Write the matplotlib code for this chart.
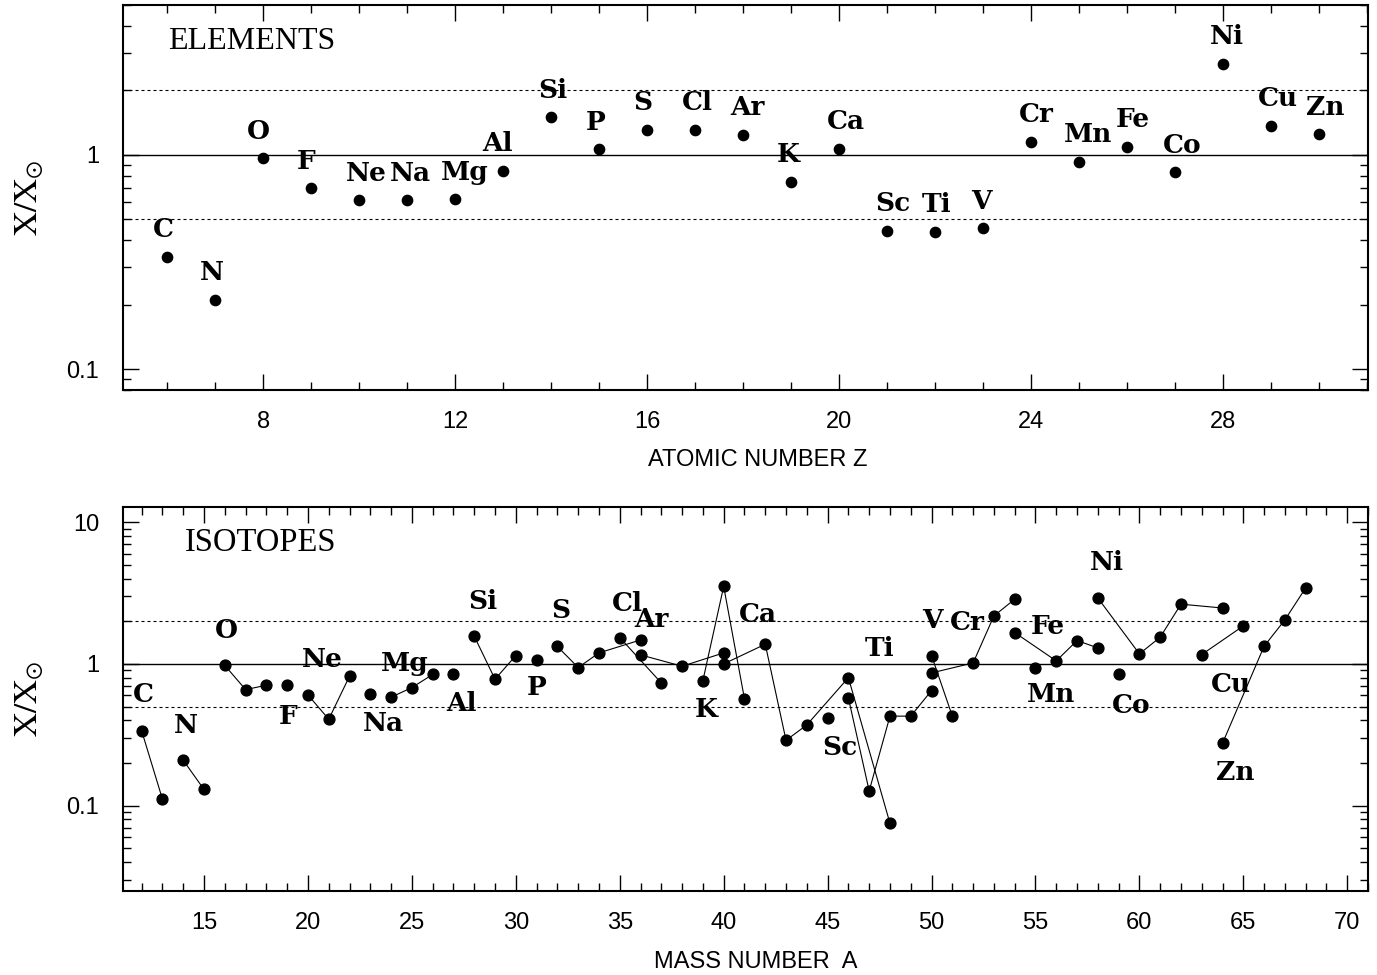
import numpy as np
import matplotlib.pyplot as plt
from matplotlib.ticker import LogLocator, MultipleLocator, FuncFormatter, NullFormatter

plt.rcParams['mathtext.fontset'] = 'stix'

# element abundances relative to solar (top panel)
elements = ['C', 'N', 'O', 'F', 'Ne', 'Na', 'Mg', 'Al', 'Si', 'P', 'S', 'Cl', 'Ar',
            'K', 'Ca', 'Sc', 'Ti', 'V', 'Cr', 'Mn', 'Fe', 'Co', 'Ni', 'Cu', 'Zn']
z_numbers = list(range(6, 31))
elem_ratio = [0.335, 0.211, 0.965, 0.699, 0.614, 0.614, 0.62, 0.842, 1.50, 1.06,
              1.31, 1.31, 1.24, 0.748, 1.07, 0.443, 0.437, 0.454, 1.15, 0.93,
              1.09, 0.83, 2.66, 1.37, 1.25]

# isotopes (bottom panel), grouped by element in the order of `elements`
iso_counts = [2, 2, 3, 1, 3, 1, 3, 1, 3, 1, 4, 2, 3, 3, 6, 1, 5, 2, 4, 1, 4, 1, 5, 2, 4]
iso_mass = [12, 13, 14, 15, 16, 17, 18, 19, 20, 21, 22, 23, 24, 25, 26, 27,
            28, 29, 30, 31, 32, 33, 34, 36, 35, 37, 36, 38, 40, 39, 40, 41,
            40, 42, 43, 44, 46, 48, 45, 46, 47, 48, 49, 50, 50, 51,
            50, 52, 53, 54, 55, 54, 56, 57, 58, 59, 58, 60, 61, 62, 64,
            63, 65, 64, 66, 67, 68]
iso_ratio = [0.337, 0.111, 0.209, 0.130, 0.975, 0.659, 0.707, 0.707,
             0.604, 0.407, 0.819, 0.618, 0.582, 0.681, 0.842, 0.842,
             1.567, 0.78, 1.146, 1.06, 1.327, 0.943, 1.196, 1.476,
             1.535, 0.734, 1.158, 0.963, 1.196, 0.763, 3.52, 0.567,
             1.0, 1.377, 0.289, 0.371, 0.80, 0.075, 0.416,
             0.575, 0.127, 0.428, 0.428, 0.649, 1.146, 0.428,
             0.864, 1.016, 2.18, 2.86, 0.937, 1.665, 1.05, 1.462, 1.297,
             0.842, 2.92, 1.177, 1.543, 2.64, 2.48, 1.165, 1.854,
             0.276, 1.333, 2.045, 3.44]
iso_element = sum([[e] * n for e, n in zip(elements, iso_counts)], [])

# label placement (pixels relative to a point)
top_dx = [-4, -3, -5, -5, 7, 3, 10, -6, 2, -3, -4, 2, 4, -3, 7, 6, 1, -2, 5, 9, 6, 7, 4, 7, 6]
bot_anchor = [12, 14, 16, 19, 20, 23, 24, 27, 28, 31, 32, 35, 36, 39, 42, 45, 46, 50, 52, 55,
              54, 59, 58, 63, 64]
bot_dx = [2, 3, 2, 1, 14, 13, 14, 8, 9, 0, 3, 8, 11, 3, -7, 12, 31, 1, -6, 16, 33, 13, 9, 29, 13]
bot_dy = [39, 38, 38, -28, 38, -27, 37, -26, 38, -24, 39, 37, 38, -26, 33, -27, 52, 38, 43, -24,
          9, -28, 38, -27, -26]

PX = 0.72  # points per pixel at dpi 100
label_font = dict(family='DejaVu Serif', fontsize=19, fontweight='bold')
sans = ['Liberation Sans', 'DejaVu Sans']


def style_axis(ax, major_x, ylim, xlim):
    ax.set_yscale('log')
    ax.set_xlim(*xlim)
    ax.set_ylim(*ylim)
    ax.xaxis.set_major_locator(MultipleLocator(major_x))
    ax.xaxis.set_minor_locator(MultipleLocator(1))
    ax.yaxis.set_major_locator(LogLocator(base=10))
    ax.yaxis.set_minor_locator(LogLocator(base=10, subs=np.arange(2, 10)))
    ax.yaxis.set_major_formatter(FuncFormatter(lambda v, p: '%g' % v))
    ax.yaxis.set_minor_formatter(NullFormatter())
    ax.tick_params(which='both', direction='in', top=True, right=True, width=1.0)
    ax.tick_params(which='major', length=11.5)
    ax.tick_params(which='minor', length=5.5)
    ax.tick_params(axis='x', pad=15, labelsize=17)
    ax.tick_params(axis='y', pad=17, labelsize=17)
    for lab in ax.get_xticklabels() + ax.get_yticklabels():
        lab.set_family(sans)
    for s in ax.spines.values():
        s.set_linewidth(1.5)
    ax.axhline(1, color='black', lw=1.0, zorder=1)
    for v in (2, 0.5):
        ax.axhline(v, color='black', lw=0.8, ls=(0, (2.7, 2.7)), zorder=1)
    ax.set_ylabel(r'$\mathrm{X/X}_{\odot}$', fontsize=24)
    ax.yaxis.set_label_coords(-0.062, 0.5)


fig = plt.figure(figsize=(13.77, 9.75), dpi=100)
ax1 = fig.add_axes([0.0893, 0.6, 0.9042, 0.3949])
ax2 = fig.add_axes([0.0893, 0.0862, 0.9042, 0.3938])

# top: elements
style_axis(ax1, 4, (0.08, 5.0), (5.08, 31.02))
ax1.plot(z_numbers, elem_ratio, 'o', color='black', ms=7.4, zorder=3)
for name, z, r, dx in zip(elements, z_numbers, elem_ratio, top_dx):
    ax1.annotate(name, (z, r), xytext=(dx * PX, 19.5 * PX), textcoords='offset points',
                 ha='center', va='baseline', **label_font)
ax1.text(0.036, 0.886, 'ELEMENTS', transform=ax1.transAxes, fontsize=23,
         family='Liberation Serif', va='baseline')
ax1.set_xlabel('ATOMIC NUMBER Z', fontsize=17, family=sans)
ax1.xaxis.set_label_coords(0.5096, -0.152)

# bottom: isotopes
style_axis(ax2, 5, (0.025, 12.8), (11.1, 71.0))
iso_element = np.array(iso_element)
iso_mass = np.array(iso_mass)
iso_ratio = np.array(iso_ratio)
for i, name in enumerate(elements):
    sel = iso_element == name
    ax2.plot(iso_mass[sel], iso_ratio[sel], '-', color='black', lw=0.8, zorder=2)
    ax2.plot(iso_mass[sel], iso_ratio[sel], 'o', color='black', ms=7.8, zorder=3)
    k = np.where(sel & (iso_mass == bot_anchor[i]))[0][0]
    ax2.annotate(name, (iso_mass[k], iso_ratio[k]),
                 xytext=(bot_dx[i] * PX, (bot_dy[i] - 10.5) * PX), textcoords='offset points',
                 ha='center', va='baseline', **label_font)
ax2.text(0.05, 0.886, 'ISOTOPES', transform=ax2.transAxes, fontsize=23.5,
         family='Liberation Serif', va='baseline')
ax2.set_xlabel('MASS NUMBER  A', fontsize=17, family=sans)
ax2.xaxis.set_label_coords(0.508, -0.157)

fig.savefig('out.png', dpi=100)
